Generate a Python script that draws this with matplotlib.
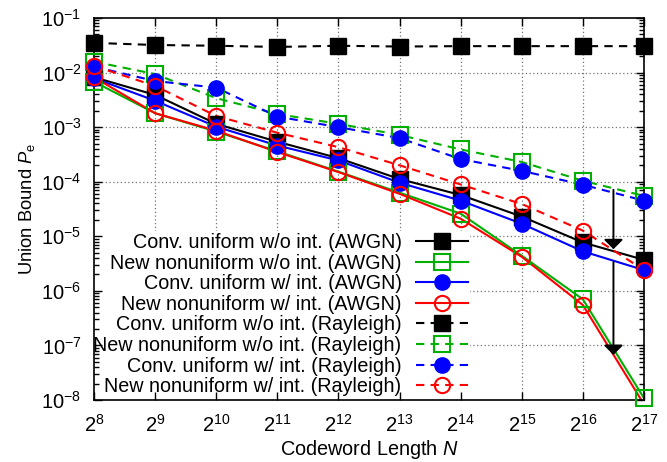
import numpy as np
import matplotlib
matplotlib.use('Agg')
import matplotlib.pyplot as plt
from matplotlib.lines import Line2D
from matplotlib.ticker import FixedLocator, FixedFormatter, NullLocator, LogLocator, NullFormatter

plt.rcParams['font.family'] = ['Liberation Sans', 'DejaVu Sans']
plt.rcParams['mathtext.fontset'] = 'custom'
plt.rcParams['mathtext.rm'] = 'Liberation Sans'
plt.rcParams['mathtext.it'] = 'Liberation Sans:italic'
plt.rcParams['mathtext.bf'] = 'Liberation Sans:bold'
plt.rcParams['mathtext.sf'] = 'Liberation Sans'

# ---------------- data ----------------
exponents = [8, 9, 10, 11, 12, 13, 14, 15, 16, 17]
N = 2.0 ** np.array(exponents)

labels = [
    "Conv. uniform w/o int. (AWGN)",
    "New nonuniform w/o int. (AWGN)",
    "Conv. uniform w/ int. (AWGN)",
    "New nonuniform w/ int. (AWGN)",
    "Conv. uniform w/o int. (Rayleigh)",
    "New nonuniform w/o int. (Rayleigh)",
    "Conv. uniform w/ int. (Rayleigh)",
    "New nonuniform w/ int. (Rayleigh)",
]

conv_awgn_woint = [8.2e-3, 3.9e-3, 1.15e-3, 5.4e-4, 2.7e-4, 1.12e-4, 5.7e-5, 2.3e-5, 7.7e-6, 3.7e-6]
new_awgn_woint = [6.8e-3, 1.8e-3, 8.3e-4, 3.6e-4, 1.53e-4, 6.3e-5, 2.6e-5, 4.4e-6, 7.0e-7, 1.08e-8]
conv_awgn_wint = [7.9e-3, 3.05e-3, 1.02e-3, 4.6e-4, 2.45e-4, 9.6e-5, 4.5e-5, 1.7e-5, 5.3e-6, 2.4e-6]
new_awgn_wint = [8.2e-3, 1.8e-3, 8.6e-4, 3.5e-4, 1.5e-4, 6.0e-5, 2.1e-5, 4.2e-6, 5.5e-7, 8.3e-9]
conv_ray_woint = [3.5e-2, 3.2e-2, 3.1e-2, 2.95e-2, 3.1e-2, 3.0e-2, 3.05e-2, 3.05e-2, 3.05e-2, 3.05e-2]
new_ray_woint = [1.58e-2, 9.4e-3, 3.4e-3, 1.74e-3, 1.15e-3, 7.2e-4, 3.9e-4, 2.3e-4, 1.04e-4, 5.5e-5]
conv_ray_wint = [1.28e-2, 7.0e-3, 5.3e-3, 1.56e-3, 1.0e-3, 6.3e-4, 2.6e-4, 1.58e-4, 8.8e-5, 4.5e-5]
new_ray_wint = [1.32e-2, 5.7e-3, 1.6e-3, 7.9e-4, 4.3e-4, 2.0e-4, 8.9e-5, 3.9e-5, 1.27e-5, 2.4e-6]

series = [conv_awgn_woint, new_awgn_woint, conv_awgn_wint, new_awgn_wint,
          conv_ray_woint, new_ray_woint, conv_ray_wint, new_ray_wint]

y_exponents = [-8, -7, -6, -5, -4, -3, -2, -1]
xtick_labels = [r'$2^{%d}$' % e for e in exponents]
ytick_labels = [r'$10^{%d}$' % e for e in y_exponents]

arrow_x_exp = 16.5
arrow_starts = [7.1e-5, 3.4e-6]
arrow_ends = [5.8e-6, 6.7e-8]

# ---------------- styles ----------------
colors = ['black', '#00b000', '#0000ff', '#ff0000'] * 2
markers = ['s', 's', 'o', 'o'] * 2
filled = [True, False, True, False] * 2
dashed = [False] * 4 + [True] * 4

fig = plt.figure(figsize=(6.67, 4.62), dpi=100)
ax = fig.add_axes([94 / 667, 62 / 462, 550 / 667, 382 / 462])
ax.set_xscale('log', base=2)
ax.set_yscale('log')
ax.set_xlim(N[0], N[-1])
ymin, ymax = 10.0 ** y_exponents[0], 10.0 ** y_exponents[-1]
ax.set_ylim(ymin, ymax)

# grid (drawn manually so the legend can hide it while ticks stay on top)
for xv in N[1:-1]:
    ax.axvline(xv, color='0.45', lw=0.9, ls=(0, (1, 2)), zorder=0.5)
for e in y_exponents[1:-1]:
    ax.axhline(10.0 ** e, color='0.45', lw=0.9, ls=(0, (1, 2)), zorder=0.5)

handles = []
for vals, lab, c, m, f, d in zip(series, labels, colors, markers, filled, dashed):
    vals = np.array(vals)
    vis = vals >= ymin
    ms = 11.5 if m == 's' else 11
    ls = (0, (4, 3)) if d else '-'
    style = dict(marker=m, ms=ms, mfc=c if f else 'none', mec=c,
                 mew=1.0 if f else 1.5)
    ax.plot(N, vals, color=c, lw=1.5, ls=ls, zorder=2)
    ax.plot(N[vis], vals[vis], ls='none', clip_on=False, zorder=7, **style)
    handles.append(Line2D([], [], color=c, lw=1.5, ls=ls, label=lab, **style))

for s, e in zip(arrow_starts, arrow_ends):
    ax.annotate('', xy=(2 ** arrow_x_exp, e), xytext=(2 ** arrow_x_exp, s),
                arrowprops=dict(arrowstyle='-|>,head_length=0.58,head_width=0.58',
                                color='black', lw=1.4, shrinkA=0, shrinkB=0,
                                mutation_scale=10),
                zorder=3)

ax.xaxis.set_major_locator(FixedLocator(N))
ax.xaxis.set_major_formatter(FixedFormatter(xtick_labels))
ax.xaxis.set_minor_locator(NullLocator())
ax.yaxis.set_major_locator(FixedLocator([10.0 ** e for e in y_exponents]))
ax.yaxis.set_major_formatter(FixedFormatter(ytick_labels))
ax.yaxis.set_minor_locator(LogLocator(base=10, subs=np.arange(2, 10), numticks=50))
ax.yaxis.set_minor_formatter(NullFormatter())

ax.tick_params(which='both', direction='in', top=True, right=True, labelsize=14.5, width=1.0)
ax.tick_params(which='major', length=6)
ax.tick_params(which='minor', length=3.5)
ax.tick_params(axis='x', pad=10)
ax.tick_params(axis='y', pad=9)
for sp in ax.spines.values():
    sp.set_linewidth(1.2)
    sp.set_zorder(6)
ax.xaxis.set_zorder(6)
ax.yaxis.set_zorder(6)

ax.set_xlabel(r'Codeword Length $N$', fontsize=14.3)
ax.set_ylabel(r'Union Bound $P_{\mathrm{e}}$', fontsize=13.2)
ax.xaxis.set_label_coords(0.5, -0.1)
ax.yaxis.set_label_coords(-0.103, 0.5)

leg = ax.legend(handles=handles, loc='lower right', bbox_to_anchor=(0.6836, 0.005),
                borderaxespad=0, markerfirst=False, frameon=True, fancybox=False,
                edgecolor='none', facecolor='white', framealpha=1, fontsize=14.2,
                handlelength=2.65, handletextpad=0.72, labelspacing=0.08,
                borderpad=0.1, numpoints=1)
leg.set_zorder(5)

fig.savefig('out.png', dpi=100)
